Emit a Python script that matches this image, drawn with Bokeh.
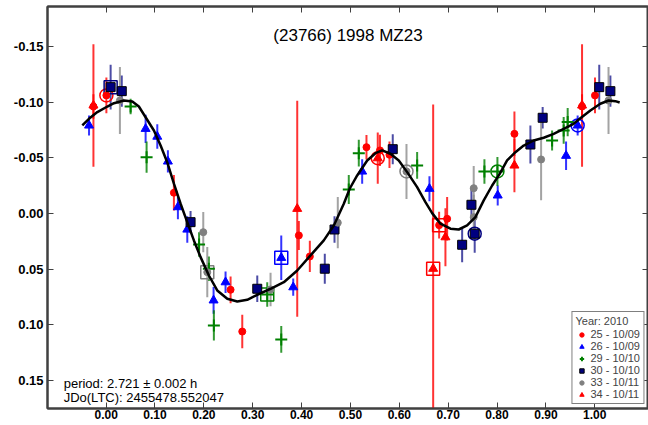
from bokeh.plotting import figure
from bokeh.models import (Range1d, LinearAxis, FixedTicker, NumeralTickFormatter,
                          Label, Legend, LegendItem, ColumnDataSource)
from bokeh.embed import file_html
from bokeh.resources import INLINE

FONT = "Liberation Sans"

# ---------------- data (phase, reduced magnitude, error) ----------------
s25_phase = [0.0005, 0.974, 0.1387, 0.2547, 0.2786, 0.3944, 0.4169, 0.5328, 0.5604, 0.5799, 0.6815, 0.6979, 0.8356]
s25_mag = [-0.106, -0.096, -0.0186, 0.0685, 0.106, 0.0197, 0.0386, -0.0595, -0.0566, -0.0527, 0.0105, 0.0048, -0.0715]
s25_err = [0.016, 0.011, 0.016, 0.012, 0.015, 0.013, 0.014, 0.011, 0.014, 0.012, 0.012, 0.0195, 0.02]

s26_phase = [0.965, 0.0808, 0.1047, 0.1264, 0.1469, 0.1661, 0.2199, 0.2444, 0.3584, 0.3829, 0.524, 0.6617, 0.8014, 0.9413]
s26_mag = [-0.079, -0.076, -0.069, -0.0467, -0.0057, 0.0144, 0.078, 0.0617, 0.0398, 0.0662, -0.0377, -0.0222, -0.0162, -0.0518]
s26_err = [0.009, 0.0127, 0.011, 0.01, 0.011, 0.012, 0.012, 0.0097, 0.02, 0.0077, 0.011, 0.0112, 0.009, 0.0127]

s29_phase = [0.0501, 0.0828, 0.1902, 0.2103, 0.2205, 0.3297, 0.3584, 0.4966, 0.5171, 0.6365, 0.7742, 0.8008, 0.9127, 0.9364, 0.9446]
s29_mag = [-0.096, -0.0505, 0.0278, 0.0496, 0.1005, 0.0727, 0.1131, -0.0215, -0.0541, -0.0431, -0.0377, -0.0377, -0.0655, -0.0745, -0.082]
s29_err = [0.007, 0.014, 0.011, 0.011, 0.0135, 0.011, 0.012, 0.013, 0.012, 0.012, 0.011, 0.013, 0.009, 0.012, 0.0127]

s30_phase = [0.0092, 0.032, 0.1728, 0.3093, 0.4475, 0.4674, 0.5866, 0.7286, 0.7543, 0.7476, 0.8683, 0.8934]
s30_mag = [-0.1134, -0.1098, 0.0078, 0.0676, 0.0496, 0.0144, -0.0577, 0.0281, 0.0182, -0.0078, -0.0619, -0.0859]
s30_err = [0.02, 0.014, 0.01, 0.012, 0.0135, 0.012, 0.0135, 0.0157, 0.017, 0.015, 0.017, 0.0097]

s33_phase = [0.0282, 0.1988, 0.207, 0.3365, 0.4741, 0.6147, 0.7523, 0.7523, 0.8902]
s33_mag = [-0.1014, 0.0168, 0.0527, 0.0682, 0.0083, -0.0377, -0.0227, 0.0033, -0.0485]
s33_err = [0.03, 0.018, 0.0225, 0.015, 0.023, 0.0247, 0.02, 0.02, 0.0367]

s34_phase = [0.974, 0.3911, 0.5559, 0.6693, 0.6944, 0.8356]
s34_mag = [-0.097, -0.0042, -0.0496, 0.0496, 0.0213, -0.0431]
s34_err = [0.055, 0.097, 0.023, 0.1475, 0.026, 0.024]

# Fourier fit curve
curve_phase = [-0.0487, -0.0352, -0.018, 0.0025, 0.016, 0.0364, 0.0536, 0.067, 0.0808, 0.0978,
               0.1115, 0.125, 0.1387, 0.1524, 0.166, 0.1796, 0.1933, 0.2103, 0.2274, 0.2479,
               0.2684, 0.2888, 0.3093, 0.3365, 0.3637, 0.3911, 0.4183, 0.4455, 0.466, 0.4864,
               0.4987, 0.5138, 0.5343, 0.5512, 0.565, 0.5819, 0.5989, 0.6161, 0.6365, 0.6535,
               0.6672, 0.6842, 0.7047, 0.7216, 0.7388, 0.7558, 0.7728, 0.79, 0.8055, 0.8206,
               0.8376, 0.8546, 0.875, 0.8955, 0.9159, 0.9364, 0.9568, 0.9705, 0.991, 1.0114,
               1.0284, 1.0422, 1.051]
curve_mag = [-0.079, -0.085, -0.091, -0.096, -0.099, -0.1014, -0.1005, -0.096, -0.0864, -0.0745,
             -0.061, -0.046, -0.0267, -0.0087, 0.0078, 0.0242, 0.0392, 0.0557, 0.0691, 0.0766,
             0.079, 0.0775, 0.073, 0.0676, 0.0617, 0.0512, 0.0377, 0.0242, 0.0108, -0.0087,
             -0.0224, -0.0341, -0.0476, -0.0541, -0.0566, -0.0536, -0.0476, -0.0371, -0.0236, -0.0101,
             -0.0003, 0.0092, 0.0137, 0.0144, 0.0108, 0.0033, -0.0117, -0.0251, -0.0356, -0.0476,
             -0.055, -0.061, -0.0655, -0.068, -0.0715, -0.076, -0.0805, -0.0855, -0.0925, -0.0985,
             -0.1014, -0.1008, -0.0996]

# highlighted points: (session, index, outline shape)
highlights = [("25", 0, "circle"), ("30", 0, "square"), ("33", 2, "square"), ("29", 5, "square"),
              ("26", 8, "square"), ("34", 2, "circle"), ("33", 5, "circle"), ("25", 10, "square"),
              ("34", 3, "square"), ("30", 8, "circle"), ("29", 11, "circle"), ("26", 0, "circle")]

legend_title = "Year: 2010"
legend_labels = {"25": "25 - 10/09", "26": "26 - 10/09", "29": "29 - 10/10",
                 "30": "30 - 10/10", "33": "33 - 10/11", "34": "34 - 10/11"}
title_text = "(23766) 1998 MZ23"
period_text = "period: 2.721 \u00b1 0.002 h"
jd_text = "JDo(LTC): 2455478.552047"
x_ticks = [0.0, 0.1, 0.2, 0.3, 0.4, 0.5, 0.6, 0.7, 0.8, 0.9, 1.0]
y_ticks = [-0.15, -0.10, -0.05, 0.0, 0.05, 0.10, 0.15]
WRAP = 0.04  # phase margin repeated on either side

# ---------------- figure ----------------
p = figure(width=648, height=425, output_backend="svg", toolbar_location=None,
           x_range=Range1d(-0.12, 1.11), y_range=Range1d(0.1751, -0.1858),
           min_border_left=47, min_border_right=0, min_border_top=6, min_border_bottom=17,
           background_fill_color="white", border_fill_color="white")
p.grid.visible = False
p.outline_line_color = "#404040"
p.outline_line_width = 2

AX = "#404040"
def style_axis(ax, labels=True):
    ax.major_tick_in = 6
    ax.major_tick_out = 0
    ax.minor_tick_line_color = None
    ax.axis_line_color = AX
    ax.axis_line_width = 2
    ax.major_tick_line_color = AX
    ax.major_tick_line_width = 1
    ax.major_label_text_font = FONT
    ax.major_label_text_font_style = "bold"
    ax.major_label_text_color = "black"
    if not labels:
        ax.major_label_text_font_size = "0px"
        ax.major_label_text_color = None
        ax.major_label_standoff = 0

xa = p.xaxis[0]
xa.ticker = FixedTicker(ticks=x_ticks)
xa.formatter = NumeralTickFormatter(format="0.00")
style_axis(xa)
xa.major_label_text_font_size = "12px"
xa.major_label_standoff = 1

ya = p.yaxis[0]
ya.ticker = FixedTicker(ticks=y_ticks)
ya.formatter = NumeralTickFormatter(format="0.00")
style_axis(ya)
ya.major_label_text_font_size = "13px"
ya.major_label_standoff = 4

top = LinearAxis(ticker=FixedTicker(ticks=x_ticks))
style_axis(top, labels=False)
p.add_layout(top, "above")
right = LinearAxis(ticker=FixedTicker(ticks=y_ticks))
style_axis(right, labels=False)
p.add_layout(right, "right")

def wrapped(ph, mg, er):
    P, M, E = list(ph), list(mg), list(er)
    for a, b, c in zip(ph, mg, er):
        if a > 1 - WRAP:
            P.append(a - 1.0); M.append(b); E.append(c)
        elif a < WRAP:
            P.append(a + 1.0); M.append(b); E.append(c)
    return P, M, E

sessions = {
    "25": dict(ph=s25_phase, mg=s25_mag, er=s25_err, marker="circle", fill="#FF0000", line="#FF0000", bar="#FF0000", size=7),
    "26": dict(ph=s26_phase, mg=s26_mag, er=s26_err, marker="triangle", fill="#0000FF", line="#0000FF", bar="#0000FF", size=9),
    "29": dict(ph=s29_phase, mg=s29_mag, er=s29_err, marker="cross", fill="#008000", line="#008000", bar="#008000", size=12),
    "30": dict(ph=s30_phase, mg=s30_mag, er=s30_err, marker="square", fill="#000080", line="#000000", bar="#1f1f8f", size=9),
    "33": dict(ph=s33_phase, mg=s33_mag, er=s33_err, marker="circle", fill="#808080", line="#808080", bar="#8c8c8c", size=7),
    "34": dict(ph=s34_phase, mg=s34_mag, er=s34_err, marker="triangle", fill="#FF0000", line="#FF0000", bar="#FF0000", size=9),
}
hl_color = {"25": "#FF0000", "26": "#0000FF", "29": "#008000", "30": "#000080", "33": "#808080", "34": "#FF0000"}

# error bars
for key, s in sessions.items():
    P, M, E = wrapped(s["ph"], s["mg"], s["er"])
    src = ColumnDataSource(dict(x=P, y0=[m - e for m, e in zip(M, E)], y1=[m + e for m, e in zip(M, E)]))
    p.segment(x0="x", y0="y0", x1="x", y1="y1", source=src, line_color=s["bar"], line_width=2, line_alpha=0.8)

# highlight outlines
for shape in ("circle", "square"):
    hx, hy, hc = [], [], []
    for key, idx, shp in highlights:
        if shp == shape:
            hx.append(sessions[key]["ph"][idx]); hy.append(sessions[key]["mg"][idx]); hc.append(hl_color[key])
    p.scatter(x=hx, y=hy, marker=shape, size=13, fill_color=None, line_color=hc, line_width=1.5)

# markers
renderers = {}
for key, s in sessions.items():
    P, M, E = wrapped(s["ph"], s["mg"], s["er"])
    if s["marker"] == "cross":
        r = p.scatter(x=P, y=M, marker="cross", size=s["size"], line_color=s["line"], line_width=2)
    else:
        r = p.scatter(x=P, y=M, marker=s["marker"], size=s["size"], fill_color=s["fill"],
                      line_color=s["line"], line_width=1)
    renderers[key] = r

# fit curve
p.line(x=curve_phase, y=curve_mag, line_color="black", line_width=2.5)

# texts
p.add_layout(Label(x=0.495, y=-0.1598, text=title_text, text_align="center", text_baseline="alphabetic",
                   text_font=FONT, text_font_size="17px", text_color="black"))
p.add_layout(Label(x=-0.0869, y=0.1526, text=period_text, text_baseline="alphabetic",
                   text_font=FONT, text_font_size="13px", text_color="black"))
p.add_layout(Label(x=-0.0869, y=0.1652, text=jd_text, text_baseline="alphabetic",
                   text_font=FONT, text_font_size="13px", text_color="black"))

legend = Legend(items=[LegendItem(label=legend_labels[k], renderers=[renderers[k]]) for k in sessions],
                location="bottom_right", title=legend_title)
legend.title_text_font = FONT
legend.title_text_font_size = "11px"
legend.title_text_font_style = "normal"
legend.title_standoff = 1
legend.label_text_font = FONT
legend.label_text_font_size = "11px"
legend.label_height = 11
legend.label_standoff = 3
legend.glyph_height = 11
legend.glyph_width = 12
legend.spacing = 0
legend.padding = 3
legend.margin = 4
legend.border_line_color = "black"
legend.border_line_width = 1
legend.background_fill_alpha = 1.0
p.add_layout(legend)

open("out.html", "w").write(file_html(p, INLINE))
